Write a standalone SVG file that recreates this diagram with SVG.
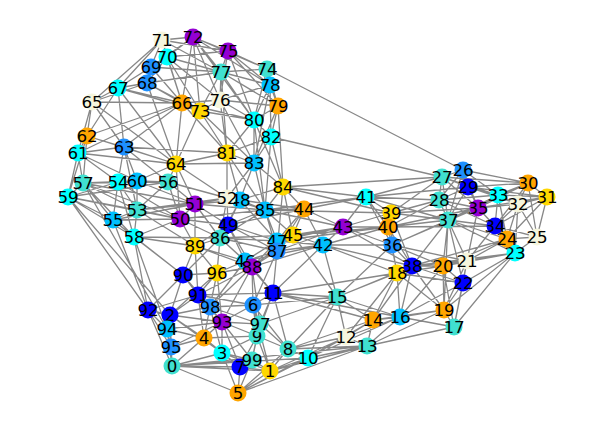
<svg xmlns="http://www.w3.org/2000/svg" width="598" height="427" viewBox="0 0 598 427">
<style>
.e{stroke:#888888;stroke-width:1.3;fill:none}
.node circle{stroke:none}
.node text{font-family:"DejaVu Sans",sans-serif;font-size:16.7px;fill:#000;text-anchor:middle;dominant-baseline:central}
.tq circle{fill:#40E0D0}.gd circle{fill:#FFD700}.or circle{fill:#FFA500}.cy circle{fill:#00FFFF}
.bl circle{fill:#0000FF}.db circle{fill:#1E90FF}.ds circle{fill:#00BFFF}.dv circle{fill:#9400D3}.bg circle{fill:#F5F5DC}
</style>
<rect width="598" height="427" fill="#fff"/>
<g id="edges">
<path class="e" d="M172 366L171 347M172 366L167 329M172 366L170 315M172 366L204 338M172 366L222 353M172 366L240 367M172 366L238 393M172 366L270 371M172 366L148 310M172 366L222 322M172 366L252 360M172 366L367 346
M270 371L238 393M270 371L252 360M270 371L240 367M270 371L288 349M270 371L308 358M270 371L257 336M270 371L222 353M270 371L346 337M270 371L253 305
M170 315L148 310M170 315L167 329M170 315L171 347M170 315L204 338M170 315L222 322M170 315L198 295M170 315L183 275M170 315L210 307M170 315L68 197M170 315L222 353
M222 353L204 338M222 353L240 367M222 353L238 393M222 353L252 360M222 353L222 322M222 353L257 336M222 353L210 307
M204 338L222 322M204 338L171 347M204 338L167 329M204 338L210 307M204 338L198 295M204 338L240 367M204 338L257 336
M238 393L240 367M238 393L252 360M238 393L288 349M238 393L308 358M238 393L367 346
M253 305L273 293M253 305L260 324M253 305L257 336M253 305L222 322M253 305L210 307M253 305L198 295M253 305L252 267M253 305L337 297M253 305L288 349
M240 367L252 360M240 367L257 336M240 367L222 322
M288 349L308 358M288 349L346 337M288 349L273 293M288 349L337 297M288 349L257 336M288 349L260 324M288 349L367 346
M257 336L260 324M257 336L252 360M257 336L222 322M257 336L273 293
M308 358L346 337M308 358L367 346M308 358L337 297M308 358L373 320
M273 293L337 297M273 293L260 324M273 293L277 251M273 293L323 245M273 293L252 267M273 293L245 261M273 293L198 295M273 293L373 320M273 293L397 273
M346 337L367 346M346 337L337 297M346 337L373 320M346 337L400 317M346 337L397 273
M367 346L373 320M367 346L400 317M367 346L454 327M367 346L444 310
M373 320L400 317M373 320L337 297M373 320L397 273M373 320L444 310M373 320L412 266
M337 297L397 273M337 297L412 266M337 297L323 245M337 297L400 317M337 297L392 245M337 297L293 235
M400 317L397 273M400 317L444 310M400 317L454 327M400 317L412 266M400 317L443 266M400 317L463 283
M454 327L444 310M454 327L463 283M454 327L467 261M454 327L515 253M454 327L443 266
M397 273L412 266M397 273L392 245M397 273L443 266M397 273L463 283M397 273L444 310M397 273L323 245M397 273L388 227
M444 310L443 266M444 310L463 283M444 310L467 261M444 310L412 266M444 310L448 220M444 310L515 253
M443 266L467 261M443 266L463 283M443 266L412 266M443 266L448 220M443 266L515 253M443 266L507 239M443 266L392 245
M467 261L463 283M467 261L515 253M467 261L507 239M467 261L448 220M467 261L478 208M467 261L412 266M467 261L495 226
M463 283L515 253M463 283L448 220M463 283L412 266
M515 253L507 239M515 253L537 237M515 253L495 226M515 253L448 220M515 253L518 204
M507 239L537 237M507 239L495 226M507 239L518 204M507 239L478 208M507 239L448 220M507 239L498 195
M537 237L547 197M537 237L518 204M537 237L528 183M537 237L495 226
M463 170L442 177M463 170L468 187M463 170L528 183M463 170L498 195M463 170L478 208M463 170L439 200M463 170L267 69
M442 177L439 200M442 177L468 187M442 177L498 195M442 177L528 183M442 177L271 137M442 177L366 197M442 177L283 187M442 177L448 220M442 177L478 208M442 177L518 204
M439 200L468 187M439 200L448 220M439 200L478 208M439 200L498 195M439 200L366 197M439 200L391 213M439 200L388 227M439 200L495 226
M468 187L498 195M468 187L478 208M468 187L528 183M468 187L448 220M468 187L518 204M468 187L547 197
M528 183L547 197M528 183L518 204M528 183L498 195M528 183L478 208
M547 197L518 204M547 197L498 195M547 197L507 239
M518 204L498 195M518 204L495 226M518 204L478 208
M498 195L495 226M498 195L478 208M498 195L448 220
M495 226L478 208M495 226L448 220M478 208L448 220M478 208L388 227
M392 245L412 266M392 245L388 227M392 245L391 213M392 245L448 220M392 245L323 245M392 245L343 227M392 245L366 197
M448 220L412 266M448 220L391 213M448 220L388 227M448 220L366 197
M412 266L388 227M412 266L391 213M412 266L323 245M412 266L343 227
M391 213L388 227M391 213L366 197M391 213L343 227
M388 227L366 197M388 227L343 227M388 227L323 245M388 227L293 235
M366 197L343 227M366 197L304 209M366 197L283 187M366 197L265 210
M323 245L343 227M323 245L293 235M323 245L277 241M323 245L277 251M323 245L304 209
M343 227L304 209M343 227L293 235M343 227L265 210M343 227L277 241
M304 209L293 235M304 209L277 241M304 209L283 187M304 209L265 210M304 209L240 200M304 209L277 251
M293 235L277 241M293 235L277 251M293 235L265 210M293 235L283 187M293 235L252 267
M245 261L252 267M245 261L277 251M245 261L220 238M245 261L228 225M245 261L277 241M245 261L195 246
M277 241L277 251M277 241L265 210M277 241L252 267M277 241L228 225M277 241L220 238M277 241L240 200
M240 200L227 198M240 200L265 210M240 200L283 187M240 200L228 225M240 200L254 163M240 200L195 204M240 200L220 238
M228 225L227 198M228 225L220 238M228 225L265 210M228 225L195 204M228 225L180 219M228 225L195 246M228 225L252 267M228 225L277 251
M180 219L195 204M180 219L195 246M180 219L220 238M180 219L137 210M180 219L134 237M180 219L168 182M180 219L113 220M180 219L176 164
M195 204L227 198M195 204L220 238M195 204L168 182M195 204L176 164M195 204L137 210M195 204L195 246
M227 198L254 163M227 198L227 153M227 198L265 210M227 198L220 238M227 198L176 164M227 198L168 182
M137 210L113 220M137 210L134 237M137 210L118 182M137 210L137 181M137 210L168 182M137 210L83 183M137 210L68 197M137 210L124 147
M118 182L137 181M118 182L113 220M118 182L83 183M118 182L68 197M118 182L124 147M118 182L78 153M118 182L134 237
M113 220L83 183M113 220L134 237M113 220L68 197M113 220L148 310
M83 183L68 197M83 183L78 153M83 183L87 136M83 183L137 181M83 183L134 237M83 183L195 204M83 183L180 219
M134 237L68 197M134 237L195 246M134 237L183 275M134 237L148 310M134 237L167 329
M68 197L78 153M68 197L87 136M68 197L148 310
M168 182L137 181M168 182L176 164M168 182L124 147
M137 181L124 147M137 181L176 164M137 181L78 153M137 181L195 204M118 182L180 219
M78 153L87 136M78 153L124 147M78 153L92 102M78 153L176 164
M87 136L124 147M87 136L92 102M87 136L118 88M87 136L176 164
M124 147L176 164M124 147L92 102M124 147L118 88M124 147L182 103
M176 164L182 103M176 164L200 111M176 164L227 153
M92 102L118 88M92 102L182 103M92 102L147 83M92 102L162 40
M182 103L200 111M182 103L220 100M182 103L147 83M182 103L193 37M182 103L118 88M182 103L227 153M182 103L167 57
M118 88L147 83M118 88L151 67M118 88L167 57M118 88L162 40
M147 83L151 67M147 83L167 57M147 83L200 111M147 83L221 72
M151 67L167 57M151 67L162 40M151 67L193 37M151 67L221 72
M167 57L162 40M167 57L193 37M167 57L221 72M167 57L228 51M167 57L220 100
M162 40L193 37M162 40L228 51M162 40L221 72
M193 37L228 51M193 37L221 72M193 37L267 69M193 37L220 100M193 37L270 85
M200 111L220 100M200 111L227 153M200 111L221 72M200 111L254 120
M267 69L228 51M267 69L221 72M267 69L270 85M267 69L278 106M267 69L254 120
M228 51L221 72M228 51L270 85M228 51L220 100M228 51L278 106
M220 100L221 72M220 100L254 120M220 100L278 106M220 100L227 153M220 100L270 85
M221 72L270 85M221 72L254 120M221 72L278 106
M270 85L278 106M270 85L254 120M270 85L271 137M270 85L254 163
M278 106L254 120M278 106L271 137M278 106L283 187M278 106L254 163
M254 120L271 137M254 120L227 153M254 120L254 163M254 120L265 210M254 120L283 187
M227 153L254 163M227 153L265 210M227 153L240 200M227 153L271 137
M271 137L254 163M271 137L283 187M271 137L265 210
M254 163L283 187M254 163L265 210M283 187L265 210M283 187L277 251
M265 210L220 238M265 210L277 251M220 238L252 267M220 238L195 246M277 251L252 267
M183 275L198 295M183 275L148 310M183 275L217 273M183 275L195 246M183 275L210 307M183 275L220 238
M198 295L210 307M198 295L217 273M198 295L222 322M198 295L148 310M198 295L195 246
M148 310L167 329M222 322L210 307M222 322L260 324M222 322L217 273M222 322L252 267
M167 329L171 347M171 347L222 322
M217 273L210 307M217 273L252 267M217 273L245 261M217 273L220 238M217 273L195 246
M260 324L252 267M260 324L252 360M210 307L252 267M210 307L245 261M252 360L222 322
M78 153L182 103M87 136L182 103M92 102L176 164M118 88L176 164M118 88L200 111M147 83L176 164M151 67L182 103M162 40L182 103M167 57L200 111M193 37L200 111M193 37L254 120M228 51L254 120M221 72L227 153M220 100L254 163M200 111L254 163M182 103L254 120M176 164L254 163M124 147L227 153
M83 183L168 182M68 197L168 182M118 182L168 182M68 197L180 219M113 220L195 204M137 210L227 198M134 237L220 238M137 210L195 246M83 183L167 329M113 220L183 275
M180 219L265 210M195 204L265 210M220 238L277 251M195 246L252 267M220 238L293 235M227 198L304 209M228 225L304 209M252 267L323 245M245 261L323 245M277 251L343 227M277 241L388 227M265 210L391 213M283 187L391 213
M528 183L448 220M547 197L478 208M528 183L495 226M547 197L495 226M463 170L448 220M442 177L391 213M468 187L366 197M478 208L391 213M495 226L388 227M507 239L412 266M515 253L412 266M467 261L392 245M392 245L478 208
M238 393L346 337M172 366L308 358M270 371L367 346M308 358L400 317M288 349L373 320M273 293L400 317M260 324L337 297M148 310L171 347M253 305L277 251M198 295L252 267M210 307L260 324M167 329L222 322M170 315L217 273"/>
</g>
<g id="nodes">
<g id="n0" class="node tq"><circle cx="172" cy="366" r="8.5"/><text x="172" y="366">0</text></g>
<g id="n1" class="node gd"><circle cx="270" cy="371" r="8.5"/><text x="270" y="371">1</text></g>
<g id="n2" class="node bl"><circle cx="170" cy="315" r="8.5"/><text x="170" y="315">2</text></g>
<g id="n3" class="node cy"><circle cx="222" cy="353" r="8.5"/><text x="222" y="353">3</text></g>
<g id="n4" class="node or"><circle cx="204" cy="338" r="8.5"/><text x="204" y="338">4</text></g>
<g id="n5" class="node or"><circle cx="238" cy="393" r="8.5"/><text x="238" y="393">5</text></g>
<g id="n6" class="node db"><circle cx="253" cy="305" r="8.5"/><text x="253" y="305">6</text></g>
<g id="n7" class="node bl"><circle cx="240" cy="367" r="8.5"/><text x="240" y="367">7</text></g>
<g id="n8" class="node tq"><circle cx="288" cy="349" r="8.5"/><text x="288" y="349">8</text></g>
<g id="n9" class="node tq"><circle cx="257" cy="336" r="8.5"/><text x="257" y="336">9</text></g>
<g id="n10" class="node cy"><circle cx="308" cy="358" r="8.5"/><text x="308" y="358">10</text></g>
<g id="n11" class="node bl"><circle cx="273" cy="293" r="8.5"/><text x="273" y="293">11</text></g>
<g id="n12" class="node bg"><circle cx="346" cy="337" r="8.5"/><text x="346" y="337">12</text></g>
<g id="n13" class="node tq"><circle cx="367" cy="346" r="8.5"/><text x="367" y="346">13</text></g>
<g id="n14" class="node or"><circle cx="373" cy="320" r="8.5"/><text x="373" y="320">14</text></g>
<g id="n15" class="node tq"><circle cx="337" cy="297" r="8.5"/><text x="337" y="297">15</text></g>
<g id="n16" class="node ds"><circle cx="400" cy="317" r="8.5"/><text x="400" y="317">16</text></g>
<g id="n17" class="node tq"><circle cx="454" cy="327" r="8.5"/><text x="454" y="327">17</text></g>
<g id="n18" class="node gd"><circle cx="397" cy="273" r="8.5"/><text x="397" y="273">18</text></g>
<g id="n19" class="node or"><circle cx="444" cy="310" r="8.5"/><text x="444" y="310">19</text></g>
<g id="n20" class="node or"><circle cx="443" cy="266" r="8.5"/><text x="443" y="266">20</text></g>
<g id="n21" class="node bg"><circle cx="467" cy="261" r="8.5"/><text x="467" y="261">21</text></g>
<g id="n22" class="node bl"><circle cx="463" cy="283" r="8.5"/><text x="463" y="283">22</text></g>
<g id="n23" class="node cy"><circle cx="515" cy="253" r="8.5"/><text x="515" y="253">23</text></g>
<g id="n24" class="node or"><circle cx="507" cy="239" r="8.5"/><text x="507" y="239">24</text></g>
<g id="n25" class="node bg"><circle cx="537" cy="237" r="8.5"/><text x="537" y="237">25</text></g>
<g id="n26" class="node db"><circle cx="463" cy="170" r="8.5"/><text x="463" y="170">26</text></g>
<g id="n27" class="node tq"><circle cx="442" cy="177" r="8.5"/><text x="442" y="177">27</text></g>
<g id="n28" class="node tq"><circle cx="439" cy="200" r="8.5"/><text x="439" y="200">28</text></g>
<g id="n29" class="node bl"><circle cx="468" cy="187" r="8.5"/><text x="468" y="187">29</text></g>
<g id="n30" class="node or"><circle cx="528" cy="183" r="8.5"/><text x="528" y="183">30</text></g>
<g id="n31" class="node gd"><circle cx="547" cy="197" r="8.5"/><text x="547" y="197">31</text></g>
<g id="n32" class="node bg"><circle cx="518" cy="204" r="8.5"/><text x="518" y="204">32</text></g>
<g id="n33" class="node cy"><circle cx="498" cy="195" r="8.5"/><text x="498" y="195">33</text></g>
<g id="n34" class="node bl"><circle cx="495" cy="226" r="8.5"/><text x="495" y="226">34</text></g>
<g id="n35" class="node dv"><circle cx="478" cy="208" r="8.5"/><text x="478" y="208">35</text></g>
<g id="n36" class="node db"><circle cx="392" cy="245" r="8.5"/><text x="392" y="245">36</text></g>
<g id="n37" class="node tq"><circle cx="448" cy="220" r="8.5"/><text x="448" y="220">37</text></g>
<g id="n38" class="node bl"><circle cx="412" cy="266" r="8.5"/><text x="412" y="266">38</text></g>
<g id="n39" class="node gd"><circle cx="391" cy="213" r="8.5"/><text x="391" y="213">39</text></g>
<g id="n40" class="node or"><circle cx="388" cy="227" r="8.5"/><text x="388" y="227">40</text></g>
<g id="n41" class="node cy"><circle cx="366" cy="197" r="8.5"/><text x="366" y="197">41</text></g>
<g id="n42" class="node ds"><circle cx="323" cy="245" r="8.5"/><text x="323" y="245">42</text></g>
<g id="n43" class="node dv"><circle cx="343" cy="227" r="8.5"/><text x="343" y="227">43</text></g>
<g id="n44" class="node or"><circle cx="304" cy="209" r="8.5"/><text x="304" y="209">44</text></g>
<g id="n45" class="node gd"><circle cx="293" cy="235" r="8.5"/><text x="293" y="235">45</text></g>
<g id="n46" class="node ds"><circle cx="245" cy="261" r="8.5"/><text x="245" y="261">46</text></g>
<g id="n47" class="node ds"><circle cx="277" cy="241" r="8.5"/><text x="277" y="241">47</text></g>
<g id="n48" class="node ds"><circle cx="240" cy="200" r="8.5"/><text x="240" y="200">48</text></g>
<g id="n49" class="node bl"><circle cx="228" cy="225" r="8.5"/><text x="228" y="225">49</text></g>
<g id="n50" class="node dv"><circle cx="180" cy="219" r="8.5"/><text x="180" y="219">50</text></g>
<g id="n51" class="node dv"><circle cx="195" cy="204" r="8.5"/><text x="195" y="204">51</text></g>
<g id="n52" class="node bg"><circle cx="227" cy="198" r="8.5"/><text x="227" y="198">52</text></g>
<g id="n53" class="node tq"><circle cx="137" cy="210" r="8.5"/><text x="137" y="210">53</text></g>
<g id="n54" class="node cy"><circle cx="118" cy="182" r="8.5"/><text x="118" y="182">54</text></g>
<g id="n55" class="node ds"><circle cx="113" cy="220" r="8.5"/><text x="113" y="220">55</text></g>
<g id="n56" class="node tq"><circle cx="168" cy="182" r="8.5"/><text x="168" y="182">56</text></g>
<g id="n57" class="node tq"><circle cx="83" cy="183" r="8.5"/><text x="83" y="183">57</text></g>
<g id="n58" class="node cy"><circle cx="134" cy="237" r="8.5"/><text x="134" y="237">58</text></g>
<g id="n59" class="node cy"><circle cx="68" cy="197" r="8.5"/><text x="68" y="197">59</text></g>
<g id="n60" class="node ds"><circle cx="137" cy="181" r="8.5"/><text x="137" y="181">60</text></g>
<g id="n61" class="node cy"><circle cx="78" cy="153" r="8.5"/><text x="78" y="153">61</text></g>
<g id="n62" class="node or"><circle cx="87" cy="136" r="8.5"/><text x="87" y="136">62</text></g>
<g id="n63" class="node db"><circle cx="124" cy="147" r="8.5"/><text x="124" y="147">63</text></g>
<g id="n64" class="node gd"><circle cx="176" cy="164" r="8.5"/><text x="176" y="164">64</text></g>
<g id="n65" class="node bg"><circle cx="92" cy="102" r="8.5"/><text x="92" y="102">65</text></g>
<g id="n66" class="node or"><circle cx="182" cy="103" r="8.5"/><text x="182" y="103">66</text></g>
<g id="n67" class="node cy"><circle cx="118" cy="88" r="8.5"/><text x="118" y="88">67</text></g>
<g id="n68" class="node db"><circle cx="147" cy="83" r="8.5"/><text x="147" y="83">68</text></g>
<g id="n69" class="node db"><circle cx="151" cy="67" r="8.5"/><text x="151" y="67">69</text></g>
<g id="n70" class="node cy"><circle cx="167" cy="57" r="8.5"/><text x="167" y="57">70</text></g>
<g id="n71" class="node bg"><circle cx="162" cy="40" r="8.5"/><text x="162" y="40">71</text></g>
<g id="n72" class="node dv"><circle cx="193" cy="37" r="8.5"/><text x="193" y="37">72</text></g>
<g id="n73" class="node gd"><circle cx="200" cy="111" r="8.5"/><text x="200" y="111">73</text></g>
<g id="n74" class="node tq"><circle cx="267" cy="69" r="8.5"/><text x="267" y="69">74</text></g>
<g id="n75" class="node dv"><circle cx="228" cy="51" r="8.5"/><text x="228" y="51">75</text></g>
<g id="n76" class="node bg"><circle cx="220" cy="100" r="8.5"/><text x="220" y="100">76</text></g>
<g id="n77" class="node tq"><circle cx="221" cy="72" r="8.5"/><text x="221" y="72">77</text></g>
<g id="n78" class="node ds"><circle cx="270" cy="85" r="8.5"/><text x="270" y="85">78</text></g>
<g id="n79" class="node or"><circle cx="278" cy="106" r="8.5"/><text x="278" y="106">79</text></g>
<g id="n80" class="node cy"><circle cx="254" cy="120" r="8.5"/><text x="254" y="120">80</text></g>
<g id="n81" class="node gd"><circle cx="227" cy="153" r="8.5"/><text x="227" y="153">81</text></g>
<g id="n82" class="node cy"><circle cx="271" cy="137" r="8.5"/><text x="271" y="137">82</text></g>
<g id="n83" class="node ds"><circle cx="254" cy="163" r="8.5"/><text x="254" y="163">83</text></g>
<g id="n84" class="node gd"><circle cx="283" cy="187" r="8.5"/><text x="283" y="187">84</text></g>
<g id="n85" class="node ds"><circle cx="265" cy="210" r="8.5"/><text x="265" y="210">85</text></g>
<g id="n86" class="node tq"><circle cx="220" cy="238" r="8.5"/><text x="220" y="238">86</text></g>
<g id="n87" class="node db"><circle cx="277" cy="251" r="8.5"/><text x="277" y="251">87</text></g>
<g id="n88" class="node dv"><circle cx="252" cy="267" r="8.5"/><text x="252" y="267">88</text></g>
<g id="n89" class="node gd"><circle cx="195" cy="246" r="8.5"/><text x="195" y="246">89</text></g>
<g id="n90" class="node bl"><circle cx="183" cy="275" r="8.5"/><text x="183" y="275">90</text></g>
<g id="n91" class="node bl"><circle cx="198" cy="295" r="8.5"/><text x="198" y="295">91</text></g>
<g id="n92" class="node bl"><circle cx="148" cy="310" r="8.5"/><text x="148" y="310">92</text></g>
<g id="n93" class="node dv"><circle cx="222" cy="322" r="8.5"/><text x="222" y="322">93</text></g>
<g id="n94" class="node ds"><circle cx="167" cy="329" r="8.5"/><text x="167" y="329">94</text></g>
<g id="n95" class="node db"><circle cx="171" cy="347" r="8.5"/><text x="171" y="347">95</text></g>
<g id="n96" class="node gd"><circle cx="217" cy="273" r="8.5"/><text x="217" y="273">96</text></g>
<g id="n97" class="node tq"><circle cx="260" cy="324" r="8.5"/><text x="260" y="324">97</text></g>
<g id="n98" class="node db"><circle cx="210" cy="307" r="8.5"/><text x="210" y="307">98</text></g>
<g id="n99" class="node tq"><circle cx="252" cy="360" r="8.5"/><text x="252" y="360">99</text></g>
</g>
</svg>
